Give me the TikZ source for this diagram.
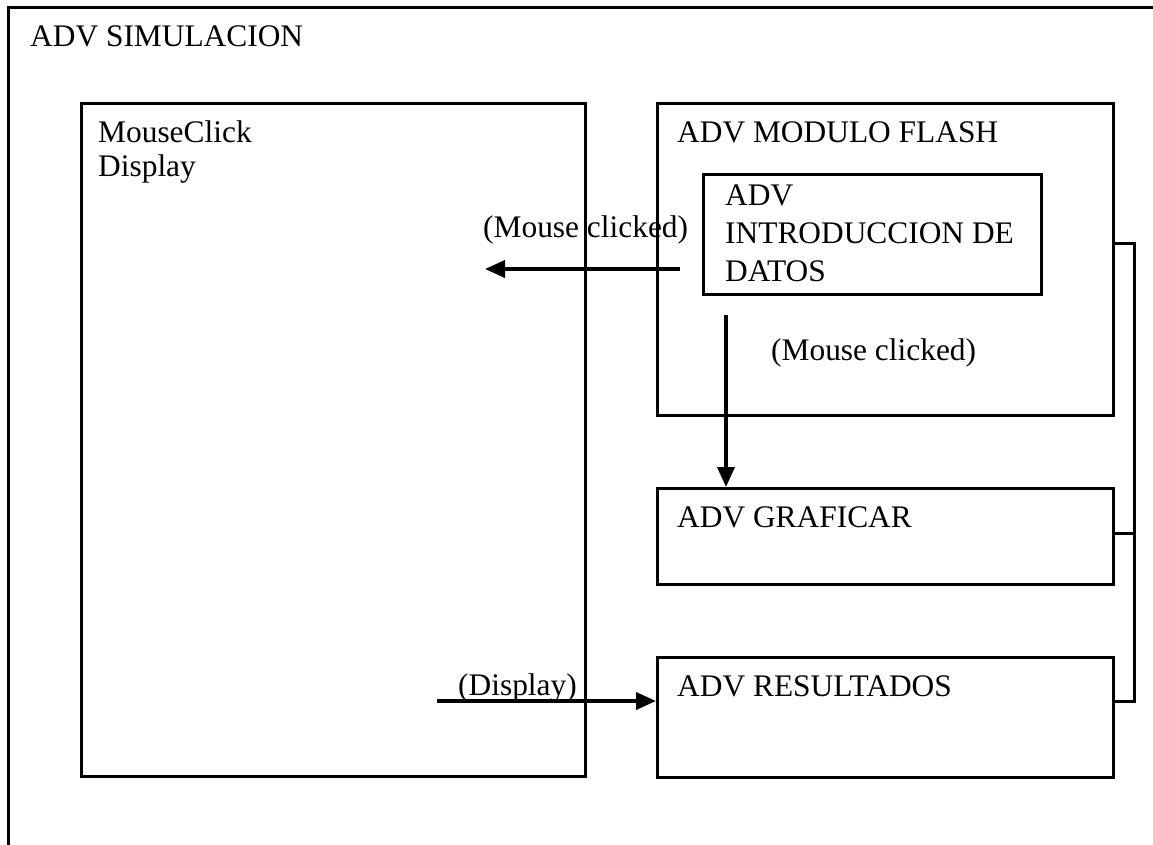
\documentclass[tikz,border=0pt]{standalone}
\usepackage{fontspec}
\setmainfont{Liberation Serif}
\usetikzlibrary{positioning,arrows.meta,calc}
\tikzset{
box/.style={
draw,
line width=3pt,
anchor=north west,
inner sep=0pt
},
txt/.style={
anchor=base west,
inner sep=0pt,
align=left,
font=\fontsize{31.4}{34}\selectfont
},
arrow/.style={
-{Triangle[length=20pt,width=17pt]},
line width=3.8pt
},
line/.style={
line width=3pt
}
}
\begin{document}
\begin{tikzpicture}[x=1pt,y=-1pt]
\useasboundingbox (0,0) rectangle (1153,845);
\draw[line] (8,845) -- (8,8) -- (1153,8);
\node[txt](title) at (30,47){ADV SIMULACION};

\node[box,minimum width=504pt,minimum height=673pt](mouse) at (80,102){};
\node[box,minimum width=456pt,minimum height=312pt](modulo) at (656,102){};
\node[box,minimum width=338pt,minimum height=120pt](intro) at (702,173){};
\node[box,minimum width=456pt,minimum height=96pt](graf) at (656,487){};
\node[box,minimum width=456pt,minimum height=120pt](res) at (656,656){};

% textos de las cajas
\node[txt](mousetxt) at (98,177){MouseClick\\Display};
\node[txt](modtxt) at (677,143){ADV MODULO FLASH};
\node[txt,font=\fontsize{31.4}{38}\selectfont](introtxt) at (725,281){ADV\\INTRODUCCION DE\\DATOS};
\node[txt](graftxt) at (677,527){ADV GRAFICAR};
\node[txt](restxt) at (677,696){ADV RESULTADOS};

% eventos
\coordinate (clka) at (680,269);
\coordinate (clkb) at (485,269);
\coordinate (clkc) at (726,315);
\coordinate (dspa) at (437,701);
\draw[arrow](clka)--(clkb);
\draw[arrow](clkc)--(clkc|-graf.north);
\draw[arrow](dspa)--(dspa-|res.west);
\node[txt](clktxt) at (483,237){(Mouse clicked)};
\node[txt](clktxtb) at (771,360){(Mouse clicked)};
\node[txt](dsptxt) at (458,695){(Display)};

\coordinate (brkt) at (1134,243);
\coordinate (brkm) at (1134,533);
\coordinate (brkb) at (1134,701);
\draw[line](brkt-|modulo.east)--(brkt)--(brkb)--(brkb-|res.east);
\draw[line](brkm-|graf.east)--(brkm);
\end{tikzpicture}
\end{document}
